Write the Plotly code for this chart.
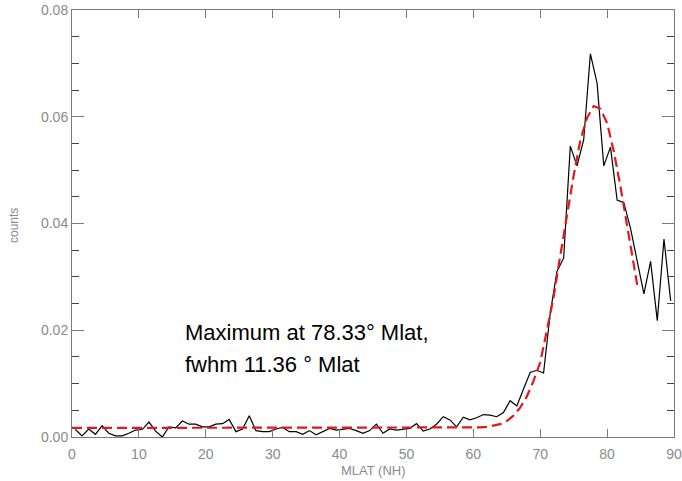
import plotly.graph_objects as go

# Observed histogram (MLAT bin centres, counts)
mlat = [0.5 + i for i in range(90)]
counts = [
    0.0014, 0.0002, 0.0015, 0.0005, 0.0021, 0.0007, 0.0002, 0.0002, 0.0007, 0.0013,
    0.0014, 0.0028, 0.0011, 0.0000, 0.0019, 0.0017, 0.0030, 0.0024, 0.0024, 0.0019,
    0.0019, 0.0024, 0.0025, 0.0033, 0.0010, 0.0015, 0.0040, 0.0012, 0.0010, 0.0010,
    0.0015, 0.0018, 0.0010, 0.0010, 0.0005, 0.0012, 0.0004, 0.0010, 0.0016, 0.0013,
    0.0015, 0.0016, 0.0012, 0.0007, 0.0012, 0.0024, 0.0007, 0.0015, 0.0013, 0.0014,
    0.0016, 0.0025, 0.0011, 0.0015, 0.0024, 0.0038, 0.0032, 0.0019, 0.0037, 0.0032,
    0.0036, 0.0042, 0.0041, 0.0038, 0.0046, 0.0068, 0.0058, 0.0090, 0.0121, 0.0125,
    0.0120, 0.0232, 0.0310, 0.0335, 0.0545, 0.0508, 0.0557, 0.0718, 0.0663, 0.0508,
    0.0543, 0.0444, 0.0439, 0.0391, 0.0332, 0.0268, 0.0329, 0.0218, 0.0371, 0.0255,
]

# Gaussian fit curve
fit_x = [0, 55, 60, 61, 62, 63, 64, 65, 66, 67, 68, 69, 70, 71, 72, 73, 74, 75,
         76, 77, 78, 79, 80, 81, 82, 83, 84, 84.5]
fit_y = [0.0017, 0.0017, 0.0017, 0.0018, 0.0019, 0.0021, 0.0024, 0.0030, 0.0040,
         0.0055, 0.0076, 0.0105, 0.0140, 0.0200, 0.0262, 0.0340, 0.0418, 0.0490,
         0.0556, 0.0598, 0.0620, 0.0615, 0.0588, 0.0535, 0.0469, 0.0395, 0.0320,
         0.0285]

x_ticks = [0, 10, 20, 30, 40, 50, 60, 70, 80, 90]
y_ticks = [0.00, 0.02, 0.04, 0.06, 0.08]
label_lines = ["Maximum at 78.33° Mlat,", "fwhm 11.36 ° Mlat"]

W, H = 682, 481
ML, MR, MT, MB = 72, 8, 10, 44
PW, PH = W - ML - MR, H - MT - MB

fig = go.Figure()
fig.add_trace(go.Scatter(x=mlat, y=counts, mode="lines",
                         line=dict(color="black", width=1.2), showlegend=False))
fig.add_trace(go.Scatter(x=fit_x, y=fit_y, mode="lines",
                         line=dict(color="#e0191b", width=2.2, dash="10px,5px"),
                         showlegend=False))

axis_col = "#7a7a7a"
fam = "Liberation Sans, Arial, sans-serif"
lbl_font = dict(family=fam, size=14, color="#8a8a8a")

fig.update_xaxes(range=[0, 90], tickvals=x_ticks, ticktext=[str(v) for v in x_ticks],
                 ticks="inside", ticklen=8, tickwidth=1, tickcolor=axis_col,
                 showline=True, linecolor=axis_col, linewidth=1, mirror="allticks",
                 showgrid=False, zeroline=False, tickfont=lbl_font, automargin=False,
                 ticklabelstandoff=4)
fig.update_yaxes(range=[0, 0.08], tickvals=y_ticks, ticktext=["%.2f" % v for v in y_ticks],
                 ticks="inside", ticklen=12, tickwidth=1, tickcolor=axis_col,
                 minor=dict(dtick=0.005, ticks="inside", ticklen=7, tickcolor="#444444", showgrid=False),
                 showline=True, linecolor=axis_col, linewidth=1, mirror="allticks",
                 showgrid=False, zeroline=False, tickfont=lbl_font, automargin=False)

# axis titles
fig.add_annotation(x=(373 - ML) / PW, y=-(470 - (H - MB)) / PH, xref="paper", yref="paper",
                   text="MLAT (NH)", showarrow=False, xanchor="center", yanchor="middle",
                   font=dict(family=fam, size=13, color="#8a8a8a"))
fig.add_annotation(x=-(ML - 14) / PW, y=(H - MB - 225) / PH, xref="paper", yref="paper",
                   text="counts", showarrow=False, textangle=-90, xanchor="center", yanchor="middle",
                   font=dict(family=fam, size=12, color="#8a8a8a"))

fig.add_annotation(x=16.6, y=0.0195, xref="x", yref="y", text=label_lines[0],
                   showarrow=False, xanchor="left", yanchor="middle",
                   font=dict(family=fam, size=22, color="black"))
fig.add_annotation(x=16.6, y=0.0135, xref="x", yref="y", text=label_lines[1],
                   showarrow=False, xanchor="left", yanchor="middle",
                   font=dict(family=fam, size=22, color="black"))

fig.update_layout(width=W, height=H, autosize=False,
                  margin=dict(l=ML, r=MR, t=MT, b=MB, autoexpand=False),
                  plot_bgcolor="white", paper_bgcolor="white")

fig.write_html("out.html", config={"displayModeBar": False},
               post_script="document.body.style.margin='0';document.body.style.overflow='hidden';")
